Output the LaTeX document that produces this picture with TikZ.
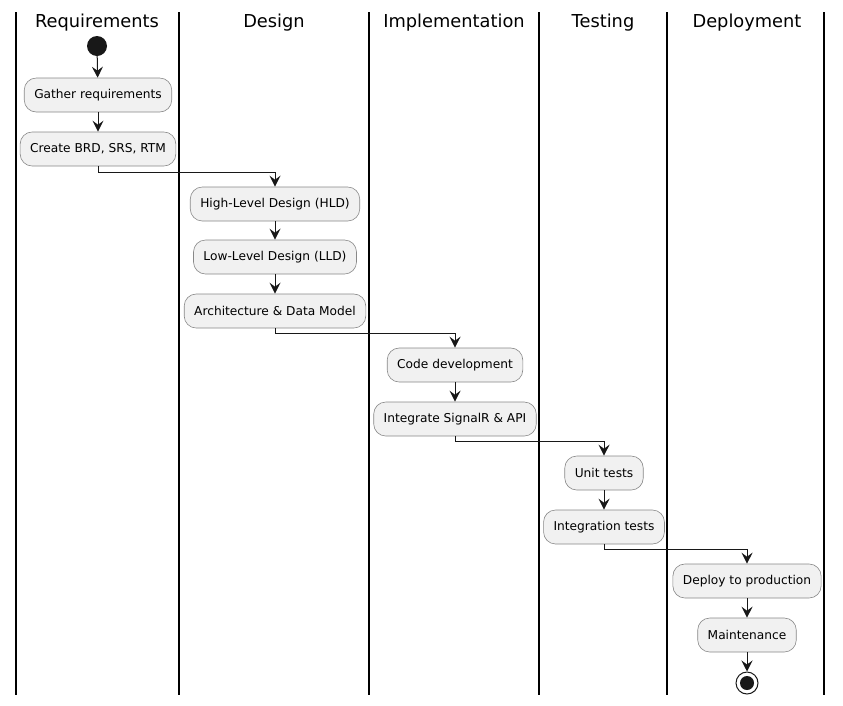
\documentclass[tikz,border=0pt]{standalone}
\usepackage{fontspec}
\setmainfont{DejaVu Sans}
\usetikzlibrary{arrows.meta}
\definecolor{actfill}{HTML}{F1F1F1}
\definecolor{actline}{HTML}{888888}
\definecolor{ink}{HTML}{181818}
\tikzset{
  act/.style={draw=actline, line width=0.6pt, fill=actfill, rounded corners=12pt,
    minimum height=34pt, inner xsep=10pt, inner ysep=0pt, font=\fontsize{12.2}{14}\selectfont, text=black},
  lane/.style={line width=1.6pt, draw=black},
  title/.style={font=\fontsize{17.8}{20}\selectfont, text=black, inner sep=0pt},
  arr/.style={draw=ink, line width=1pt, -{Stealth[length=11pt,width=11pt,inset=4pt]}}
}
\begin{document}
\begin{tikzpicture}[x=1pt,y=-1pt]
\useasboundingbox (0,0) rectangle (843,705);
% lanes
\foreach \xx in {16,179,369,539,667,824}{\draw[lane] (\xx,12) -- (\xx,695);}
\node[title] (t1) at (97,23) {Requirements};
\node[title] (t2) at (274,23) {Design};
\node[title] (t3) at (454,23) {Implementation};
\node[title] (t4) at (603,23) {Testing};
\node[title] (t5) at (747,23) {Deployment};
% start
\node[circle, fill=ink, minimum size=20pt, inner sep=0pt] (start) at (97,46) {};
\node[act] (gather) at (98,95) {Gather requirements};
\node[act] (brd) at (98,149) {Create BRD, SRS, RTM};
\node[act] (hld) at (275,204) {High-Level Design (HLD)};
\node[act] (lld) at (275,257) {Low-Level Design (LLD)};
\node[act] (arch) at (275,311) {Architecture \& Data Model};
\node[act] (code) at (455,365) {Code development};
\node[act] (integ) at (455,419) {Integrate SignalR \& API};
\node[act] (unit) at (604,473) {Unit tests};
\node[act] (itest) at (604,527) {Integration tests};
\node[act] (deploy) at (747,581) {Deploy to production};
\node[act] (maint) at (747,635) {Maintenance};
% end
\node[circle, draw=ink, line width=1pt, fill=white, minimum size=22pt, inner sep=0pt] (stop) at (747,683) {};
\node[circle, fill=ink, minimum size=14pt, inner sep=0pt] (stopin) at (stop.center) {};
% connectors
\draw[arr] (start) -- (gather);
\draw[arr] (gather) -- (brd);
\draw[arr] (brd.south) -- ++(0,6) -| (hld.north);
\draw[arr] (hld) -- (lld);
\draw[arr] (lld) -- (arch);
\draw[arr] (arch.south) -- ++(0,5.5) -| (code.north);
\draw[arr] (code) -- (integ);
\draw[arr] (integ.south) -- ++(0,5.5) -| (unit.north);
\draw[arr] (unit) -- (itest);
\draw[arr] (itest.south) -- ++(0,5.5) -| (deploy.north);
\draw[arr] (deploy) -- (maint);
\draw[arr] (maint) -- (stop);
\end{tikzpicture}
\end{document}
